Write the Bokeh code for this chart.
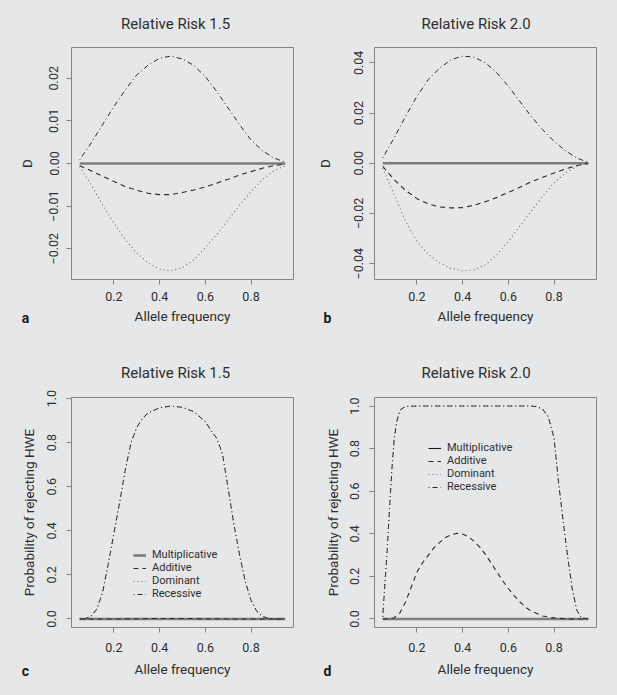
from bokeh.plotting import figure
from bokeh.layouts import row, column
from bokeh.models import Range1d, FixedTicker, Legend, LegendItem, Title, Label
from bokeh.embed import file_html
from bokeh.resources import INLINE

# ---------------- data ----------------
MODELS = ["Multiplicative", "Additive", "Dominant", "Recessive"]
TITLES = ["Relative Risk 1.5", "Relative  Risk 2.0", "Relative Risk 1.5", "Relative  Risk 2.0"]
LETTERS = ["a", "b", "c", "d"]
X_LABEL = "Allele frequency"
Y_LABEL_TOP = "D"
Y_LABEL_BOTTOM = "Probability of rejecting HWE"

X_TICKS = [0.2, 0.4, 0.6, 0.8]
X_TICK_LABELS = ["0.2", "0.4", "0.6", "0.8"]
A_TICKS = [-0.02, -0.01, 0.0, 0.01, 0.02]
A_TICK_LABELS = ["\u22120.02", "\u22120.01", "0.00", "0.01", "0.02"]
B_TICKS = [-0.04, -0.02, 0.0, 0.02, 0.04]
B_TICK_LABELS = ["\u22120.04", "\u22120.02", "0.00", "0.02", "0.04"]
P_TICKS = [0.0, 0.2, 0.4, 0.6, 0.8, 1.0]
P_TICK_LABELS = ["0.0", "0.2", "0.4", "0.6", "0.8", "1.0"]

# panels a and b: D against allele frequency
AB_FREQ = [0.05, 0.10, 0.15, 0.20, 0.25, 0.30, 0.35, 0.40, 0.45, 0.50,
           0.55, 0.60, 0.65, 0.70, 0.75, 0.80, 0.85, 0.90, 0.95]
A_MULT = [0.0] * 19
A_ADD = [-0.0005, -0.0017, -0.0030, -0.0042, -0.0054, -0.0063, -0.0070, -0.0073, -0.0073, -0.0068,
         -0.0062, -0.0055, -0.0046, -0.0037, -0.0027, -0.0019, -0.0011, -0.0005, -0.0001]
A_DOM = [-0.0007, -0.0050, -0.0097, -0.0140, -0.0179, -0.0210, -0.0234, -0.0248, -0.0252, -0.0244,
         -0.0226, -0.0198, -0.0167, -0.0132, -0.0098, -0.0066, -0.0038, -0.0017, -0.0005]
A_REC = [0.0009, 0.0048, 0.0091, 0.0134, 0.0173, 0.0208, 0.0231, 0.0247, 0.0252, 0.0245,
         0.0230, 0.0204, 0.0169, 0.0130, 0.0091, 0.0055, 0.0030, 0.0013, 0.0003]

B_MULT = [0.0] * 19
B_ADD = [-0.0012, -0.0065, -0.0108, -0.0141, -0.0162, -0.0174, -0.0178, -0.0177, -0.0167, -0.0153,
         -0.0136, -0.0116, -0.0096, -0.0074, -0.0056, -0.0039, -0.0023, -0.0009, -0.0001]
B_DOM = [-0.0019, -0.0125, -0.0231, -0.0311, -0.0364, -0.0397, -0.0420, -0.0429, -0.0425, -0.0404,
         -0.0364, -0.0311, -0.0251, -0.0191, -0.0132, -0.0078, -0.0039, -0.0012, 0.0]
B_REC = [0.0021, 0.0101, 0.0187, 0.0267, 0.0334, 0.0380, 0.0413, 0.0427, 0.0423, 0.0400,
         0.0360, 0.0307, 0.0247, 0.0187, 0.0134, 0.0088, 0.0050, 0.0021, 0.0003]

# panel c: power, relative risk 1.5
C_FREQ = [0.05, 0.075, 0.1, 0.125, 0.15, 0.175, 0.2, 0.225, 0.25, 0.275, 0.3, 0.325, 0.35, 0.4,
          0.45, 0.5, 0.55, 0.6, 0.625, 0.65, 0.675, 0.7, 0.725, 0.75, 0.775, 0.8, 0.825, 0.85,
          0.875, 0.9, 0.925, 0.95]
C_MULT = [0.0] * 32
C_ADD = [0.0, 0.0, 0.0, 0.0, 0.0, 0.0, 0.0, 0.0, 0.001, 0.001, 0.001, 0.001, 0.002, 0.002,
         0.002, 0.002, 0.002, 0.001, 0.001, 0.001, 0.001, 0.0, 0.0, 0.0, 0.0, 0.0, 0.0, 0.0,
         0.0, 0.0, 0.0, 0.0]
C_DOM = [0.0, 0.002, 0.013, 0.047, 0.12, 0.25, 0.39, 0.53, 0.68, 0.80, 0.87, 0.91, 0.935, 0.958,
         0.966, 0.960, 0.94, 0.895, 0.855, 0.82, 0.745, 0.59, 0.43, 0.29, 0.17, 0.085, 0.035, 0.012,
         0.003, 0.0, 0.0, 0.0]
C_REC = [0.0, 0.002, 0.012, 0.045, 0.12, 0.25, 0.39, 0.53, 0.68, 0.80, 0.87, 0.91, 0.935, 0.958,
         0.966, 0.960, 0.94, 0.895, 0.855, 0.82, 0.75, 0.59, 0.43, 0.29, 0.17, 0.085, 0.035, 0.012,
         0.003, 0.0, 0.0, 0.0]

# panel d: power, relative risk 2.0
D_FREQ = [0.05, 0.075, 0.1, 0.125, 0.15, 0.175, 0.2, 0.225, 0.25, 0.275, 0.3, 0.325, 0.35, 0.375,
          0.4, 0.425, 0.45, 0.475, 0.5, 0.525, 0.55, 0.575, 0.6, 0.625, 0.65, 0.675, 0.7, 0.75,
          0.8, 0.85, 0.9, 0.95]
D_MULT = [0.0] * 32
D_ADD = [0.0, 0.001, 0.006, 0.028, 0.08, 0.15, 0.22, 0.265, 0.30, 0.335, 0.36, 0.383, 0.396, 0.402,
         0.399, 0.386, 0.365, 0.337, 0.303, 0.262, 0.22, 0.18, 0.143, 0.11, 0.081, 0.056, 0.037,
         0.014, 0.005, 0.001, 0.0, 0.0]
D_EDGE_FREQ = [0.05, 0.06, 0.07, 0.08, 0.09, 0.1, 0.11, 0.12, 0.13, 0.15, 0.2, 0.3, 0.4, 0.5, 0.6,
               0.7, 0.725, 0.75, 0.775, 0.8, 0.82, 0.84, 0.86, 0.88, 0.9, 0.92, 0.95]
D_DOM = [0.01, 0.18, 0.34, 0.53, 0.71, 0.85, 0.925, 0.962, 0.985, 0.998, 1.0, 1.0, 1.0, 1.0, 1.0,
         1.0, 0.997, 0.985, 0.95, 0.85, 0.64, 0.46, 0.29, 0.14, 0.04, 0.005, 0.0]
D_REC = [0.01, 0.17, 0.33, 0.52, 0.70, 0.84, 0.92, 0.96, 0.985, 0.998, 1.0, 1.0, 1.0, 1.0, 1.0,
         1.0, 0.997, 0.985, 0.95, 0.85, 0.64, 0.46, 0.29, 0.14, 0.04, 0.005, 0.0]

# ---------------- style ----------------
FONT = "Roboto"
BG = "#e6e7e8"
TXT = "#2e2e2e"
BOX = "#858585"
STYLES = {
    "Multiplicative": dict(line_color="#7d7d7d", line_width=2.6, line_dash="solid"),
    "Additive": dict(line_color="#2a2a2a", line_width=1.1, line_dash="5 4"),
    "Dominant": dict(line_color="#6a6a6a", line_width=1.1, line_dash="1 3"),
    "Recessive": dict(line_color="#2a2a2a", line_width=1.0, line_dash="1 3 5 3"),
}


def padded(values):
    lo, hi = min(values), max(values)
    pad = 0.04 * (hi - lo)
    return Range1d(lo - pad, hi + pad)


def make_panel(series, yticks, ylabels, ylab, title, letter, borders, width, height,
               ytick_standoff, ylab_standoff, xtick_standoff, xlab_standoff,
               title_offset, title_standoff, letter_x, letter_y,
               legend_loc=None, legend_thin_mult=False):
    allx = [v for xs, _ in series.values() for v in xs]
    ally = [v for _, ys in series.values() for v in ys]
    left, right, top, bottom = borders
    p = figure(width=width, height=height, x_range=padded(allx), y_range=padded(ally),
               output_backend="svg", toolbar_location=None,
               min_border_left=left, min_border_right=right,
               min_border_top=top, min_border_bottom=bottom,
               background_fill_color=BG, border_fill_color=BG,
               outline_line_color=BOX, outline_line_width=1)
    p.grid.visible = False
    renderers = {}
    for name in MODELS:
        xs, ys = series[name]
        renderers[name] = p.line(xs, ys, **STYLES[name])

    xa, ya = p.xaxis[0], p.yaxis[0]
    xa.ticker = FixedTicker(ticks=X_TICKS)
    xa.major_label_overrides = dict(zip(X_TICKS, X_TICK_LABELS))
    ya.ticker = FixedTicker(ticks=yticks)
    ya.major_label_overrides = dict(zip(yticks, ylabels))
    ya.major_label_orientation = "vertical"
    xa.axis_label = X_LABEL
    ya.axis_label = ylab
    for ax in (xa, ya):
        ax.axis_line_color = None
        ax.major_tick_line_color = BOX
        ax.major_tick_out = 5
        ax.major_tick_in = 0
        ax.minor_tick_line_color = None
        ax.major_label_text_font = FONT
        ax.major_label_text_font_size = "12.5px"
        ax.major_label_text_color = TXT
        ax.axis_label_text_font = FONT
        ax.axis_label_text_font_size = "13.5px"
        ax.axis_label_text_font_style = "normal"
        ax.axis_label_text_color = TXT
    ya.major_label_standoff = int(ytick_standoff)
    ya.axis_label_standoff = int(ylab_standoff)
    xa.major_label_standoff = int(xtick_standoff)
    xa.axis_label_standoff = int(xlab_standoff)

    p.add_layout(Title(text=title, align="left", offset=title_offset, standoff=int(title_standoff),
                       vertical_align="top",
                       text_font=FONT, text_font_size="15px", text_font_style="normal",
                       text_color=TXT), "above")
    p.add_layout(Label(x=letter_x, y=letter_y, x_units="screen", y_units="screen",
                       text=letter, text_font=FONT, text_font_size="14px",
                       text_font_style="bold", text_color="#1a1a1a",
                       text_align="center", text_baseline="middle"), "below")

    if legend_loc is not None:
        items = []
        for name in MODELS:
            rs = [renderers[name]]
            if name == "Multiplicative" and legend_thin_mult:
                xs, ys = series[name]
                rs = [p.line(xs, ys, line_color="#1a1a1a", line_width=1.1, visible=False)]
            items.append(LegendItem(label=name, renderers=rs))
        leg = Legend(items=items, location=legend_loc, orientation="vertical",
                     background_fill_alpha=0, border_line_color=None,
                     glyph_width=13, glyph_height=12, label_height=12, label_standoff=6,
                     spacing=0, padding=0, margin=0,
                     label_text_font=FONT, label_text_font_size="11px", label_text_color=TXT)
        p.add_layout(leg)
    return p


pa = make_panel({"Multiplicative": (AB_FREQ, A_MULT), "Additive": (AB_FREQ, A_ADD),
                 "Dominant": (AB_FREQ, A_DOM), "Recessive": (AB_FREQ, A_REC)},
                A_TICKS, A_TICK_LABELS, Y_LABEL_TOP, TITLES[0], LETTERS[0],
                (71, 9, 47, 66), 302, 345, 8, 12, 7, 4, 49.5, 26, -46, 25)
pb = make_panel({"Multiplicative": (AB_FREQ, B_MULT), "Additive": (AB_FREQ, B_ADD),
                 "Dominant": (AB_FREQ, B_DOM), "Recessive": (AB_FREQ, B_REC)},
                B_TICKS, B_TICK_LABELS, Y_LABEL_TOP, TITLES[1], LETTERS[1],
                (72, 21, 47, 66), 315, 345, 6, 19, 7, 4, 47, 26, -47, 25)
pc = make_panel({"Multiplicative": (C_FREQ, C_MULT), "Additive": (C_FREQ, C_ADD),
                 "Dominant": (C_FREQ, C_DOM), "Recessive": (C_FREQ, C_REC)},
                P_TICKS, P_TICK_LABELS, Y_LABEL_BOTTOM, TITLES[2], LETTERS[2],
                (71, 9, 52, 66), 302, 350, 10, 8, 10, 6, 49.5, 28, -46, 25,
                legend_loc=(62, 27))
pd_ = make_panel({"Multiplicative": (D_FREQ, D_MULT), "Additive": (D_FREQ, D_ADD),
                  "Dominant": (D_EDGE_FREQ, D_DOM), "Recessive": (D_EDGE_FREQ, D_REC)},
                 P_TICKS, P_TICK_LABELS, Y_LABEL_BOTTOM, TITLES[3], LETTERS[3],
                 (72, 21, 52, 66), 315, 350, 10, 7, 10, 6, 47, 28, -47, 25,
                 legend_loc=(54, 134), legend_thin_mult=True)

layout = column(row(pa, pb, styles={"background-color": BG}),
                row(pc, pd_, styles={"background-color": BG}),
                styles={"background-color": BG})
open("out.html", "w").write(file_html(layout, INLINE))
